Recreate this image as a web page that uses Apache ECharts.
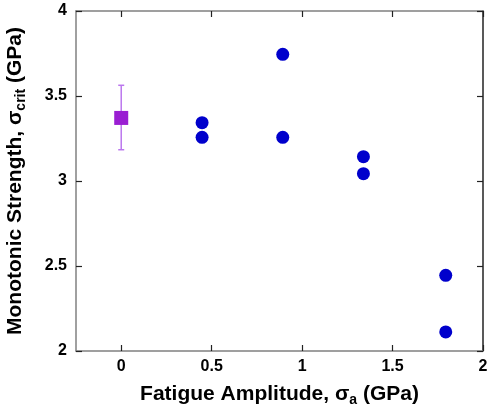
<!DOCTYPE html>
<html><head><meta charset="utf-8">
<script src="https://cdn.jsdelivr.net/npm/echarts@6/dist/echarts.min.js"></script>
<style>html,body{margin:0;padding:0;background:#fff}#c{width:488px;height:410px}</style>
</head><body><div id="c"></div>
<script>
const xTicks = [0, 0.5, 1, 1.5, 2];
const yTicks = [2, 2.5, 3, 3.5, 4];
const monotonicX = [0];
const monotonicY = [3.371];
const monotonicErrLow = [3.184];
const monotonicErrHigh = [3.563];
const fatigueX = [0.447, 0.447, 0.893, 0.893, 1.339, 1.339, 1.794, 1.794];
const fatigueY = [3.343, 3.257, 3.745, 3.257, 3.143, 3.043, 2.445, 2.112];

const chart = echarts.init(document.getElementById('c'));
const font = 'Liberation Sans, Arial, sans-serif';
const axisCommon = {
  type: 'value',
  axisLine: {show: true, onZero: false, lineStyle: {color: '#808080', width: 1.5}},
  axisTick: {show: true, inside: true, length: 6, lineStyle: {color: '#222', width: 1.2}},
  splitLine: {show: false},
};
const nameRich = {
  t: {fontFamily: font, fontWeight: 'bold', fontSize: 21, color: '#000'},
  s: {fontFamily: font, fontWeight: 'bold', fontSize: 14, color: '#000', padding: [11, 0, 0, 0]}
};
chart.setOption({
  animation: false,
  grid: {left: 76, right: 5, top: 11, bottom: 59, containLabel: false, outerBoundsMode: 'none'},
  xAxis: [
    Object.assign({}, axisCommon, {
      min: -0.25, max: 2, interval: 0.5,
      axisLabel: {
        color: '#000', fontFamily: font, fontWeight: 'bold', fontSize: 16, margin: 8,
        customValues: xTicks,
        formatter: v => String(v)
      },
      axisTick: Object.assign({}, axisCommon.axisTick, {customValues: xTicks}),
      name: '{t|Fatigue Amplitude, σ}{s|a}{t| (GPa)}',
      nameLocation: 'middle', nameGap: 31,
      nameTextStyle: {rich: nameRich}
    }),
    Object.assign({}, axisCommon, {
      position: 'top', min: -0.25, max: 2, interval: 0.5,
      axisLabel: {show: false},
      axisTick: Object.assign({}, axisCommon.axisTick, {customValues: xTicks}),
    })
  ],
  yAxis: [
    Object.assign({}, axisCommon, {
      min: 2, max: 4, interval: 0.5,
      axisLabel: {color: '#000', fontFamily: font, fontWeight: 'bold', fontSize: 16, margin: 9,
        formatter: v => String(v)},
      name: '{t|Monotonic Strength, σ}{s|crit}{t| (GPa)}',
      nameLocation: 'middle', nameGap: 48, nameRotate: 90,
      nameTextStyle: {rich: nameRich}
    }),
    Object.assign({}, axisCommon, {
      position: 'right', min: 2, max: 4, interval: 0.5,
      axisLabel: {show: false},
      axisLine: {show: true, onZero: false, lineStyle: {color: '#222', width: 1.5}}
    })
  ],
  series: [
    {
      type: 'custom',
      xAxisIndex: 0, yAxisIndex: 0,
      data: monotonicX.map((x, i) => [x, monotonicErrLow[i], monotonicErrHigh[i]]),
      renderItem: function (params, api) {
        const lo = api.coord([api.value(0), api.value(1)]);
        const hi = api.coord([api.value(0), api.value(2)]);
        const w = 3;
        const st = {stroke: '#bb77ee', lineWidth: 1.5};
        return {type: 'group', children: [
          {type: 'line', shape: {x1: lo[0], y1: lo[1], x2: hi[0], y2: hi[1]}, style: st},
          {type: 'line', shape: {x1: lo[0]-w, y1: lo[1], x2: lo[0]+w, y2: lo[1]}, style: st},
          {type: 'line', shape: {x1: hi[0]-w, y1: hi[1], x2: hi[0]+w, y2: hi[1]}, style: st}
        ]};
      },
      z: 2
    },
    {
      type: 'scatter',
      data: monotonicX.map((x, i) => [x, monotonicY[i]]),
      symbol: 'rect', symbolSize: 14,
      itemStyle: {color: '#9a1ed2', opacity: 1},
      z: 3
    },
    {
      type: 'scatter',
      data: fatigueX.map((x, i) => [x, fatigueY[i]]),
      symbol: 'circle', symbolSize: 13,
      itemStyle: {color: '#0000cc', opacity: 1},
      z: 3
    }
  ]
});
</script>
</body></html>
